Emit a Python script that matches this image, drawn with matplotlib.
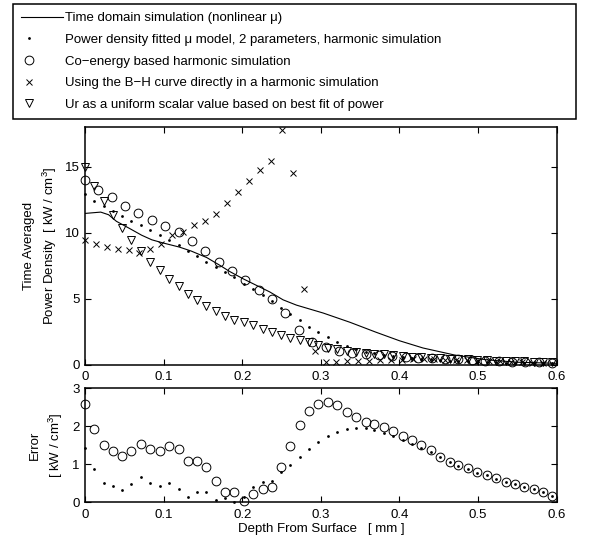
import matplotlib
matplotlib.use('Agg')
import matplotlib.pyplot as plt
from matplotlib.lines import Line2D
from matplotlib.legend_handler import HandlerLine2D

plt.rcParams['font.family'] = ['Liberation Sans', 'DejaVu Sans']
plt.rcParams['mathtext.fontset'] = 'custom'
plt.rcParams['mathtext.rm'] = 'Liberation Sans'
plt.rcParams['mathtext.it'] = 'Liberation Sans:italic'

# ── data ──────────────────────────────────────────────────
# time domain curve (nonlinear mu)
line_depth = [0, 0.02, 0.03, 0.04, 0.057, 0.072, 0.085, 0.1, 0.12, 0.135, 0.155,
              0.172, 0.184, 0.201, 0.218, 0.235, 0.252, 0.269, 0.303, 0.337, 0.37,
              0.4, 0.43, 0.47, 0.51, 0.55, 0.6]
line_power = [11.45, 11.55, 11.35, 10.85, 10.3, 9.8, 9.45, 9.2, 8.9, 8.6, 8.1,
              7.5, 7.05, 6.5, 6.0, 5.5, 4.9, 4.5, 3.9, 3.2, 2.45,
              1.8, 1.25, 0.72, 0.36, 0.17, 0.09]

# fine mesh (dots, triangles, error plot)
depth_fine = [0.000, 0.012, 0.024, 0.036, 0.047, 0.059, 0.071, 0.083, 0.095, 0.107,
              0.119, 0.131, 0.142, 0.154, 0.166, 0.178, 0.190, 0.202, 0.214, 0.226,
              0.238, 0.249, 0.261, 0.273, 0.285, 0.297, 0.309, 0.321, 0.333, 0.345,
              0.357, 0.368, 0.380, 0.392, 0.404, 0.416, 0.428, 0.440, 0.452, 0.464,
              0.475, 0.487, 0.499, 0.511, 0.523, 0.535, 0.547, 0.559, 0.571, 0.583,
              0.594]
fitted_power = [12.9, 12.42, 12.05, 11.67, 11.29, 10.91, 10.54, 10.16, 9.78, 9.4,
                9.03, 8.6, 8.19, 7.77, 7.39, 7.01, 6.63, 6.13, 5.7, 5.25,
                4.8, 4.29, 3.79, 3.37, 2.87, 2.44, 2.05, 1.69, 1.4, 1.15,
                0.98, 0.85, 0.74, 0.65, 0.57, 0.5, 0.44, 0.39, 0.34, 0.3,
                0.27, 0.24, 0.21, 0.19, 0.17, 0.15, 0.13, 0.12, 0.11, 0.10,
                0.09]
scalar_power = [15.0, 13.56, 12.42, 11.34, 10.33, 9.4, 8.6, 7.77, 7.14, 6.51,
                5.93, 5.38, 4.87, 4.42, 4.04, 3.69, 3.4, 3.2, 2.98, 2.68,
                2.43, 2.23, 2.02, 1.85, 1.68, 1.47, 1.27, 1.17, 1.04, 0.95,
                0.88, 0.82, 0.76, 0.7, 0.65, 0.6, 0.56, 0.52, 0.48, 0.44,
                0.41, 0.38, 0.35, 0.32, 0.3, 0.27, 0.25, 0.23, 0.21, 0.19,
                0.18]

# co-energy harmonic simulation (coarser mesh)
depth_coenergy = [0.000, 0.017, 0.034, 0.051, 0.068, 0.085, 0.102, 0.119, 0.136, 0.153,
                  0.170, 0.187, 0.204, 0.221, 0.238, 0.255, 0.272, 0.289, 0.306, 0.323,
                  0.340, 0.357, 0.374, 0.391, 0.408, 0.424, 0.441, 0.458, 0.475, 0.492,
                  0.509, 0.526, 0.543, 0.560, 0.577, 0.594]
coenergy_power = [14.0, 13.25, 12.68, 12.05, 11.49, 10.96, 10.5, 10.03, 9.36, 8.58,
                  7.75, 7.06, 6.38, 5.63, 5.0, 3.87, 2.62, 1.74, 1.3, 1.05,
                  0.9, 0.8, 0.72, 0.65, 0.58, 0.52, 0.47, 0.42, 0.38, 0.34,
                  0.3, 0.26, 0.22, 0.19, 0.16, 0.14]

# B-H curve used directly
depth_bh = [0.000, 0.014, 0.028, 0.042, 0.056, 0.069, 0.083, 0.097, 0.111, 0.125,
            0.139, 0.153, 0.167, 0.181, 0.194, 0.208, 0.222, 0.236, 0.250, 0.264,
            0.278, 0.292, 0.306, 0.319, 0.333, 0.347, 0.361, 0.375, 0.389, 0.403,
            0.417, 0.431, 0.444, 0.458, 0.472, 0.486, 0.500, 0.514, 0.528, 0.542,
            0.556, 0.569, 0.583]
bh_power = [9.4, 9.15, 8.9, 8.78, 8.65, 8.47, 8.78, 9.15, 9.78, 10.08,
            10.54, 10.91, 11.42, 12.22, 13.05, 13.88, 14.74, 15.45, 17.76, 14.49,
            5.75, 1.0, 0.2, 0.22, 0.25, 0.28, 0.3, 0.33, 0.35, 0.37,
            0.38, 0.38, 0.38, 0.37, 0.35, 0.33, 0.3, 0.27, 0.24, 0.21,
            0.18, 0.15, 0.13]

# error plot
err_coenergy = [2.58, 1.94, 1.50, 1.34, 1.22, 1.34, 1.53, 1.39, 1.35, 1.49,
                1.39, 1.10, 1.08, 0.92, 0.55, 0.26, 0.26, 0.04, 0.22, 0.36,
                0.41, 0.93, 1.48, 2.03, 2.39, 2.58, 2.63, 2.56, 2.38, 2.24,
                2.12, 2.05, 1.98, 1.88, 1.75, 1.63, 1.51, 1.37, 1.20, 1.07,
                0.98, 0.89, 0.79, 0.72, 0.63, 0.54, 0.47, 0.41, 0.34, 0.26,
                0.17]
err_fitted = [1.42, 0.87, 0.52, 0.43, 0.32, 0.48, 0.67, 0.50, 0.43, 0.52,
              0.35, 0.15, 0.27, 0.27, 0.05, 0.11, 0.01, 0.15, 0.41, 0.53,
              0.56, 0.79, 0.99, 1.19, 1.40, 1.59, 1.74, 1.85, 1.94, 1.96,
              1.96, 1.89, 1.83, 1.74, 1.63, 1.53, 1.42, 1.33, 1.18, 1.05,
              0.96, 0.87, 0.78, 0.71, 0.62, 0.54, 0.47, 0.40, 0.34, 0.26,
              0.17]

legend_labels = ['Time domain simulation (nonlinear μ)',
                 'Power density fitted μ model, 2 parameters, harmonic simulation',
                 'Co\u2212energy based harmonic simulation',
                 'Using the B\u2212H curve directly in a harmonic simulation',
                 'Ur as a uniform scalar value based on best fit of power']

x_ticks = [0, 0.1, 0.2, 0.3, 0.4, 0.5, 0.6]
x_ticklabels = ['0', '0.1', '0.2', '0.3', '0.4', '0.5', '0.6']

FS = 9.5
LW = 0.7


class MarkerLeft(HandlerLine2D):
    # matlab style legend: marker sits left of the line centre
    def get_xdata(self, legend, xdescent, ydescent, width, height, fontsize):
        xd = [-xdescent, -xdescent + 0.4 * width]
        return xd, [-xdescent + 0.2 * width]


def style_axes(ax):
    ax.tick_params(direction='in', top=True, right=True, length=4, width=0.8,
                   labelsize=FS, pad=4)
    ax.tick_params(axis='x', pad=5)
    for s in ax.spines.values():
        s.set_linewidth(1.1)
    ax.set_xlim(0, 0.6)
    ax.set_xticks(x_ticks)
    ax.set_xticklabels(x_ticklabels)


fig = plt.figure(figsize=(5.92, 5.44), dpi=100)
fig.patch.set_facecolor('white')
ax1 = fig.add_axes([85 / 592, 1 - 364.5 / 544, 471.7 / 592, 237.5 / 544])
ax2 = fig.add_axes([85 / 592, 1 - 502.3 / 544, 471.7 / 592, 114 / 544])

# ── top: power density ────────────────────────────────────
ax1.plot(line_depth, line_power, '-', color='k', lw=0.8)
ax1.plot(depth_fine, fitted_power, 'o', ms=2.0, color='k', mew=0, clip_on=False)
ax1.plot(depth_coenergy, coenergy_power, 'o', ms=6.3, mfc='none', mec='k', mew=LW, clip_on=False)
ax1.plot(depth_bh, bh_power, 'x', ms=4.8, mec='k', mew=LW, clip_on=False)
ax1.plot(depth_fine, scalar_power, 'v', ms=6.3, mfc='none', mec='k', mew=LW, clip_on=False)
style_axes(ax1)
ax1.set_ylim(0, 18)
ax1.set_yticks([0, 5, 10, 15])
ax1.set_yticklabels(['0', '5', '10', '15'])
ax1.set_ylabel('Time Averaged\nPower Density  [ kW / cm$^3$]', fontsize=FS, linespacing=1.45)
ax1.yaxis.set_label_coords(-0.055, 0.5)

# ── bottom: error ─────────────────────────────────────────
ax2.plot(depth_fine, err_coenergy, 'o', ms=6.3, mfc='none', mec='k', mew=LW, clip_on=False)
ax2.plot(depth_fine, err_fitted, 'o', ms=2.0, color='k', mew=0, clip_on=False)
style_axes(ax2)
ax2.set_ylim(0, 3)
ax2.set_yticks([0, 1, 2, 3])
ax2.set_yticklabels(['0', '1', '2', '3'])
ax2.set_ylabel('Error\n[ kW / cm$^3$]', fontsize=FS, linespacing=1.45)
ax2.yaxis.set_label_coords(-0.042, 0.5)
ax2.set_xlabel('Depth From Surface   [ mm ]', fontsize=FS, labelpad=1)

# ── legend box on top ─────────────────────────────────────
line_handle = Line2D([], [], color='k', lw=0.8)
marker_handles = [Line2D([], [], ls='none', marker='o', ms=2.0, color='k', mew=0),
                  Line2D([], [], ls='none', marker='o', ms=6.3, mfc='none', mec='k', mew=LW),
                  Line2D([], [], ls='none', marker='x', ms=4.8, mec='k', mew=LW),
                  Line2D([], [], ls='none', marker='v', ms=6.3, mfc='none', mec='k', mew=LW)]
hmap = {h: MarkerLeft() for h in marker_handles}
leg = fig.legend([line_handle] + marker_handles, legend_labels, loc='upper left',
                 bbox_to_anchor=(12.7 / 592, 1 - 4 / 544, 563.3 / 592, 0),
                 mode='expand', borderaxespad=0, fancybox=False, edgecolor='k',
                 framealpha=1, fontsize=FS, handlelength=3.25, handletextpad=0.15,
                 labelspacing=0.72, borderpad=0.6, handler_map=hmap)
leg.get_frame().set_linewidth(1.1)

fig.savefig('out.png', dpi=100)
